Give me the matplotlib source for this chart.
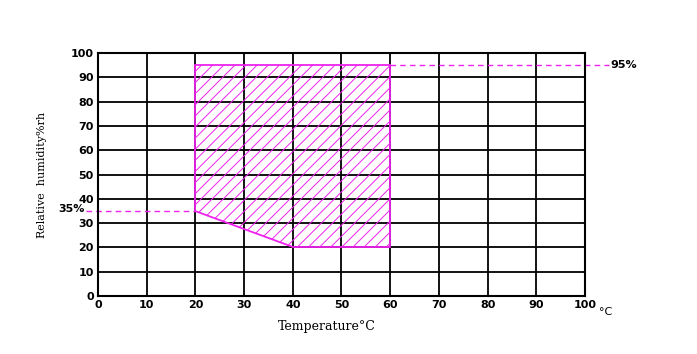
import matplotlib
matplotlib.use('Agg')
import matplotlib.pyplot as plt
from matplotlib.patches import Polygon

# Operating region of the chamber
region_temp = [20, 20, 60, 60, 40]
region_rh = [35, 95, 95, 20, 20]
x_ticks = [0, 10, 20, 30, 40, 50, 60, 70, 80, 90, 100]
y_ticks = [0, 10, 20, 30, 40, 50, 60, 70, 80, 90, 100]

plt.rcParams['font.family'] = 'DejaVu Sans'
plt.rcParams['font.weight'] = 'bold'
plt.rcParams['hatch.color'] = '#ee22ee'
plt.rcParams['hatch.linewidth'] = 0.7

fig = plt.figure(figsize=(6.97, 3.54), dpi=100)
ax = fig.add_axes([0.1406, 0.1638, 0.6987, 0.6865])

ax.set_xlim(0, 100)
ax.set_ylim(0, 100)
ax.set_xticks(x_ticks)
ax.set_yticks(y_ticks)
ax.tick_params(length=0, labelsize=8, pad=3)
ax.grid(True, color='black', linewidth=1.3)
ax.set_axisbelow(True)
for s in ax.spines.values():
    s.set_linewidth(1.5)

poly = Polygon(list(zip(region_temp, region_rh)), closed=True, facecolor='none',
               edgecolor='#ee22ee', hatch='///', linewidth=1.3, zorder=3)
ax.add_patch(poly)

# dashed reference lines extending outside the axes
ax.plot([-2.5, region_temp[0]], [region_rh[0], region_rh[0]], color='#ee22ee',
        lw=1.0, clip_on=False, dashes=(4, 3))
ax.plot([region_temp[2], 105], [region_rh[1], region_rh[1]], color='#ee22ee',
        lw=1.0, clip_on=False, dashes=(4, 3))
ax.text(-2.7, region_rh[0] + 0.8, '35%', ha='right', va='center', fontsize=8)
ax.text(105.3, region_rh[1], '95%', ha='left', va='center', fontsize=8)
ax.text(102.8, -4.5, '°C', ha='left', va='top', fontsize=8, fontweight='normal')

ax.set_xlabel('Temperature°C', fontsize=9, family='DejaVu Serif')
ax.xaxis.set_label_coords(0.47, -0.1)
ax.set_ylabel('Relative  humidity%rh', fontsize=8, family='DejaVu Serif')
ax.yaxis.set_label_coords(-0.105, 0.5)

fig.savefig('out.png', dpi=100)
